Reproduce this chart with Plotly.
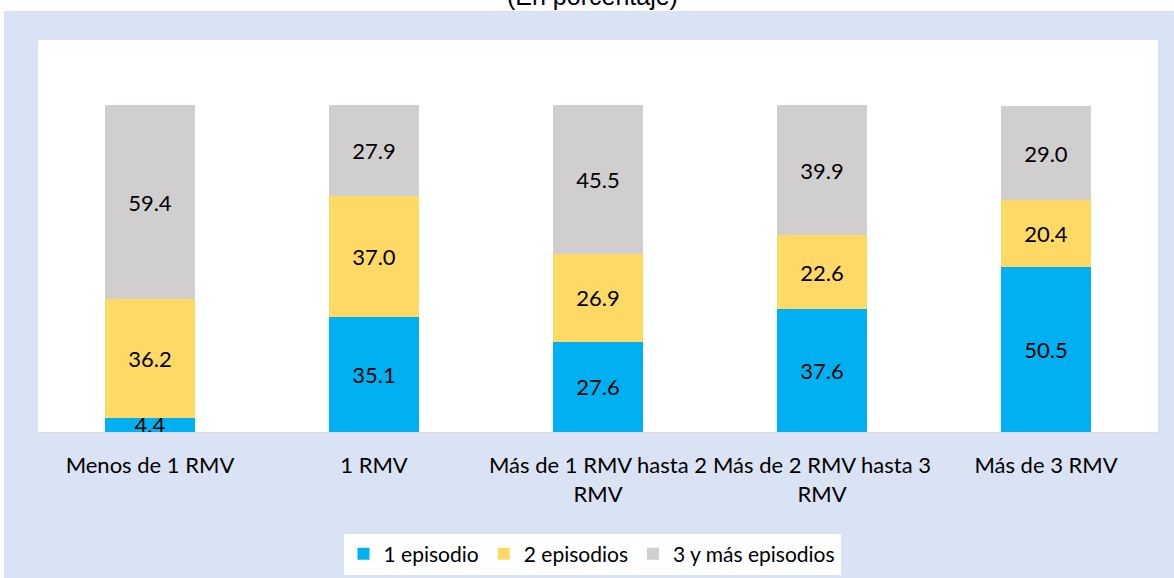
import plotly.graph_objects as go

categories = ["Menos de 1 RMV", "1 RMV", "Más de 1 RMV hasta 2<br>RMV",
              "Más de 2 RMV hasta 3<br>RMV", "Más de 3 RMV"]
ep1 = [4.4, 35.1, 27.6, 37.6, 50.5]
ep2 = [36.2, 37.0, 26.9, 22.6, 20.4]
ep3 = [59.4, 27.9, 45.5, 39.9, 29.0]
series_names = ["1 episodio", "2 episodios", "3 y más episodios"]
colors = ["#00B0F0", "#FFD966", "#D0CECE"]

W, H = 1174, 578
L, R, T, B = 38, 16, 40, 146
pw, ph = W - L - R, H - T - B

def px2x(px):
    return (px - L) / pw

def py2y(py):
    return (H - B - py) / ph

FONT = "Lato"

fig = go.Figure()
for name, vals, col in zip(series_names, [ep1, ep2, ep3], colors):
    fig.add_trace(go.Bar(
        x=categories, y=vals, name=name, marker_color=col,
        marker_line_width=0, width=0.4,
        text=[f"{v:.1f}" for v in vals], textposition="inside",
        insidetextanchor="middle", constraintext="none",
        textfont=dict(family=FONT, size=22, color="#000000"),
        hoverinfo="skip",
    ))

fig.update_layout(
    width=W, height=H,
    margin=dict(l=L, r=R, t=T, b=B, autoexpand=False),
    barmode="stack",
    paper_bgcolor="#DAE3F3",
    plot_bgcolor="#FFFFFF",
    font=dict(family=FONT, size=22, color="#000000"),
    showlegend=True,
    legend=dict(orientation="h", xref="container", yref="container",
                x=592 / W, xanchor="center", y=1 - 554 / H,
                yanchor="middle", bgcolor="#FFFFFF",
                font=dict(family=FONT, size=21, color="#000000"),
                itemwidth=30, traceorder="normal"),
    xaxis=dict(showline=True, linecolor="#D9D9D9", linewidth=1,
               ticks="", showgrid=False, zeroline=False, automargin=False,
               ticklabelstandoff=14,
               tickfont=dict(family=FONT, size=22, color="#000000")),
    yaxis=dict(range=[0, 120], visible=False, showgrid=False, zeroline=False,
               automargin=False),
    shapes=[
        dict(type="rect", xref="paper", yref="paper", layer="below",
             x0=px2x(0), x1=px2x(W), y0=py2y(11), y1=py2y(0),
             fillcolor="#FFFFFF", line_width=0),
        dict(type="rect", xref="paper", yref="paper", layer="below",
             x0=px2x(0), x1=px2x(4), y0=py2y(H), y1=py2y(0),
             fillcolor="#FFFFFF", line_width=0),
    ],
    annotations=[
        dict(text="(En porcentaje)", xref="paper", yref="paper",
             x=px2x(592), y=py2y(12), xanchor="center", yanchor="bottom",
             showarrow=False,
             font=dict(family="Liberation Sans", size=25, color="#000000")),
    ],
)

fig.write_html("out.html", config={"displayModeBar": False},
               post_script="document.body.style.margin='0';")
